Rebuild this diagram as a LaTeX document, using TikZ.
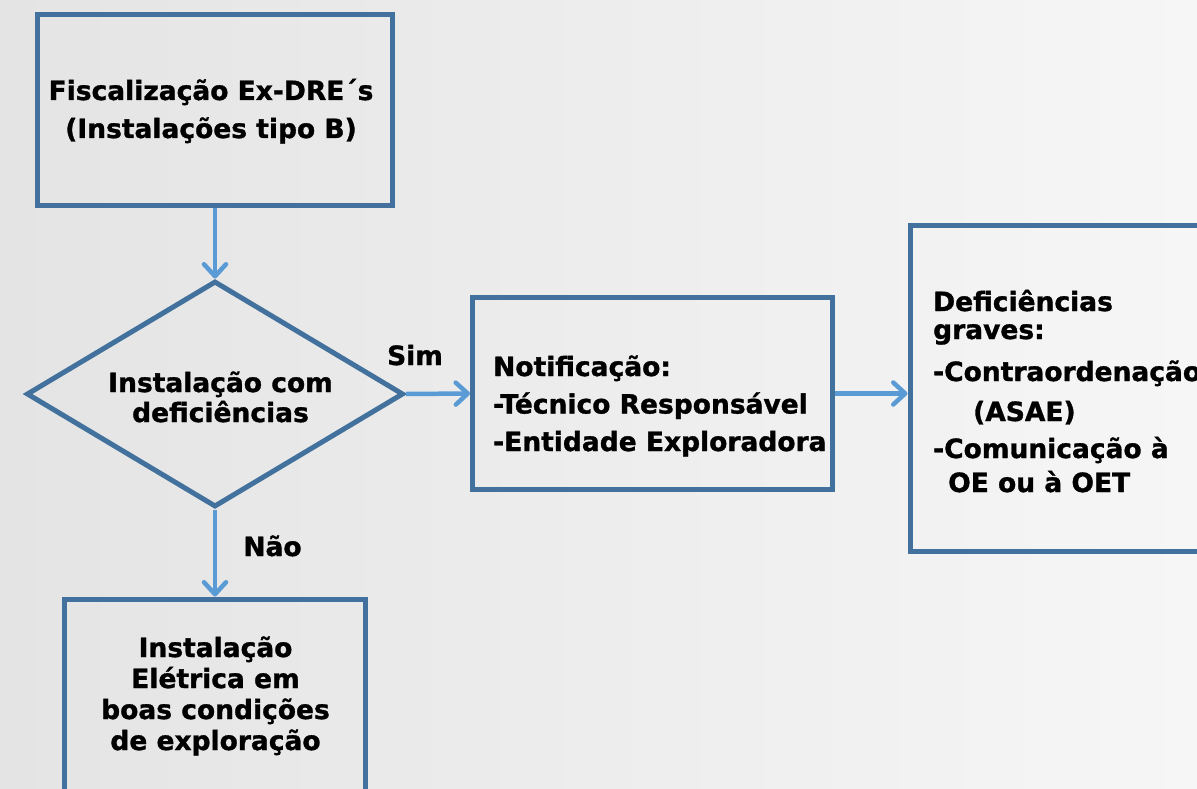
\documentclass[tikz,border=0pt]{standalone}
\usepackage{fontspec}
\setmainfont{DejaVu Sans}[BoldFeatures={FakeBold=1.2}]
\usetikzlibrary{arrows.meta,shapes.geometric}
\definecolor{bordc}{RGB}{65,113,156}
\definecolor{arrc}{RGB}{91,155,213}
\definecolor{bgl}{RGB}{228,228,228}
\definecolor{bgr}{RGB}{246,246,246}
\begin{document}
\begin{tikzpicture}[x=1pt,y=-1pt,
  box/.style={draw=bordc, line width=5pt, rectangle, inner sep=0pt},
  dia/.style={draw=bordc, line width=5pt, diamond, inner sep=0pt},
  txt/.style={font=\bfseries\fontsize{26.5}{38}\selectfont, inner sep=0pt, text=black},
  conn/.style={draw=arrc, line width=4.5pt, -{Straight Barb[length=12pt,width=22pt,round]}},
]
\useasboundingbox (0,0) rectangle (1197,789);
\shade[left color=bgl,right color=bgr] (0,0) rectangle (1197,789);

\node[box, minimum width=355pt, minimum height=191pt] (b1) at (215,110) {};
\node[dia, minimum width=377pt, minimum height=226pt] (d) at (215,394) {};
\node[box, minimum width=360pt, minimum height=192pt] (b2) at (652.5,393.5) {};
\node[box, minimum width=320pt, minimum height=325.5pt] (b3) at (1070,388.25) {};
\node[box, minimum width=301.5pt, minimum height=210pt] (b4) at (215,704) {};

\node[txt, align=center, anchor=base] (t1) at (211,138) {Fiscalização Ex-DRE´s\\(Instalações tipo B)};
\node[txt, align=center, anchor=base, font=\bfseries\fontsize{26.5}{30}\selectfont] (td) at (220.5,422) {Instalação com\\deficiências};
\node[txt, align=left, anchor=base west, font=\bfseries\fontsize{26.5}{37.5}\selectfont] (t2) at (493,451) {Notificação:\\-Técnico Responsável\\-Entidade Exploradora};
\node[txt, align=left, anchor=base west, font=\bfseries\fontsize{26.5}{40}\selectfont] (t3) at (933,492) {Deficiências\\[-12pt]graves:\\[2pt]-Contraordenação\\\hspace*{40pt}(ASAE)\\[-3pt]-Comunicação à\\[-6pt]\hspace*{15pt}OE ou à OET};
\node[txt, align=center, anchor=base, font=\bfseries\fontsize{26.5}{31}\selectfont] (t4) at (215.5,750) {Instalação\\Elétrica em\\boas condições\\de exploração};
\node[txt, anchor=base] (lsim) at (415,365) {Sim};
\node[txt, anchor=base] (lnao) at (272.5,556) {Não};

\draw[conn] (b1.south) -- (d.north);
\draw[conn] (d.east) -- (b2.west);
\draw[conn] (d.south) -- (b4.north);
\draw[conn] (b2.east) -- (b2.east -| b3.west);
\end{tikzpicture}
\end{document}
